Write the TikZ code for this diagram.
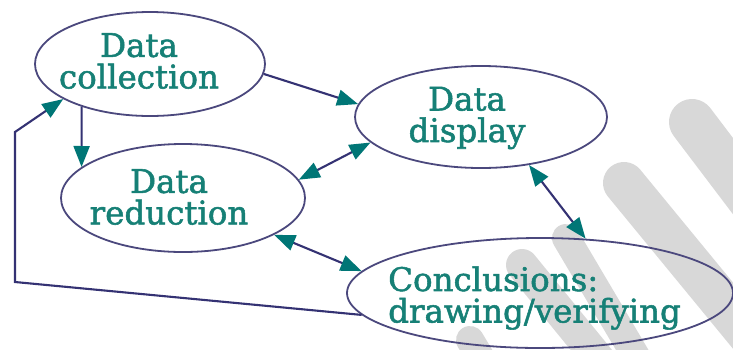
\documentclass[tikz,border=0pt]{standalone}
\usepackage{fontspec}
\newfontfamily\labfont[FakeBold=1.6]{DejaVu Serif}
\usetikzlibrary{shapes.geometric,arrows.meta}
\definecolor{labc}{RGB}{22,128,118}
\definecolor{edgec}{RGB}{75,72,125}
\definecolor{linec}{RGB}{52,50,115}
\definecolor{tipc}{RGB}{0,118,118}
\definecolor{wmc}{RGB}{216,216,216}
\tikzset{
  ell/.style={ellipse, draw=edgec, line width=1.8pt, inner sep=0pt},
  lab/.style={text=labc, font=\labfont\fontsize{32.5}{31.5}\selectfont, inner sep=0pt},
  arr/.style={draw=linec, line width=2.1pt, -{Triangle[length=21pt,width=16pt,color=tipc,fill=tipc]}},
  darr/.style={draw=linec, line width=2.1pt, {Triangle[length=21pt,width=16pt,color=tipc,fill=tipc]}-{Triangle[length=21pt,width=16pt,color=tipc,fill=tipc]}},
  wm/.style={draw=wmc, line cap=round}
}
\begin{document}
\begin{tikzpicture}[x=1pt,y=-1pt]
\useasboundingbox (0,0) rectangle (733,349);
\fill[white] (0,0) rectangle (733,349);
% watermark strokes
\begin{scope}
\clip (0,0) rectangle (733,349);
\draw[wm, line width=46pt] (692,122) -- (770,225);
\draw[wm, line width=42pt] (624,183) -- (790,385);
\draw[wm, line width=28pt] (566,238) -- (650,380);
\draw[wm, line width=32pt] (522,265) -- (620,385);
\draw[wm, line width=28pt] (470,340) -- (500,390);
\end{scope}
% ellipses
\node[ell, minimum width=230pt, minimum height=104pt] (dc) at (150,64) {};
\node[ell, minimum width=252pt, minimum height=102pt] (dd) at (481,117) {};
\node[ell, minimum width=244pt, minimum height=108pt] (dr) at (183,198) {};
\node[ell, minimum width=386pt, minimum height=110pt] (cc) at (540,293) {};
% labels
\node[lab, align=center] (tdc) at (139,61) {Data\\collection};
\node[lab, align=center] (tdd) at (467,118) {Data\\display};
\node[lab, align=center] (tdr) at (169,197) {Data\\reduction};
\node[lab, align=left, anchor=west] (tcc) at (388,298) {Conclusions:\\drawing/verifying};
% connectors
\draw[arr] (dc.-5) -- (dd.174);
\draw[arr] (dc.-148) -- (dr.163);
\draw[darr] (dr.9) -- (dd.-167);
\draw[darr] (dd.-45) -- (cc.50);
\draw[darr] (dr.-22) -- (cc.173);
\coordinate (fb1) at (15,282);
\coordinate (fb2) at (15,132);
\draw[arr] (cc.-173) -- (fb1) -- (fb2) -- (dc.-158);
\end{tikzpicture}
\end{document}
